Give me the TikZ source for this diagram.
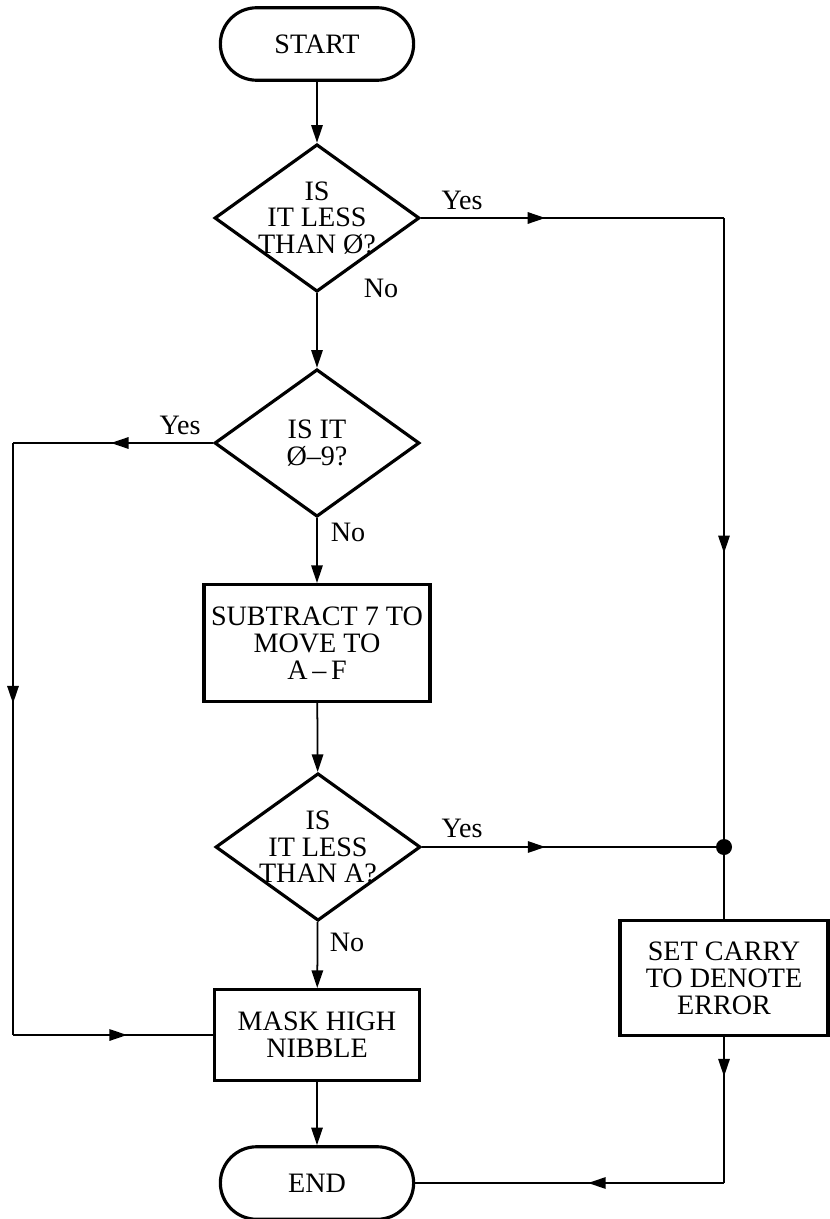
\documentclass[tikz,border=0pt]{standalone}
\usepackage{fontspec}
\setmainfont{Liberation Serif}
\usetikzlibrary{shapes.geometric,shapes.misc,arrows.meta,decorations.markings}

\begin{document}
\begin{tikzpicture}[x=0.02cm, y=-0.02cm,
        every node/.style={font=\fontsize{16}{15.3}\selectfont, align=center},
        terminal/.style={rounded rectangle, draw, line width=1.8pt, minimum width=4.1cm, minimum height=1.45cm},
        decision/.style={diamond, draw, line width=1.8pt, aspect=1.4, inner sep=-4pt, minimum width=4.1cm, minimum height=2.95cm},
        process/.style={rectangle, draw, line width=1.8pt, inner sep=0pt},
        link/.style={line width=1pt},
        arr/.style={link, -{Triangle[length=10pt, width=6.5pt]}},
        midarr/.style={link, postaction={decorate}, decoration={markings, mark=at position #1 with {\arrow{Triangle[length=10pt, width=6.5pt]}}}},
        junction/.style={circle, fill, inner sep=0pt, minimum size=0.32cm}]
        \useasboundingbox (0,0) rectangle (830,1219);

        %%%%%%%%%% Blocchi %%%%%%%%%%
        \node[terminal] (start) at (317,44) {START};
        \node[decision] (test1) at (317,218) {IS\\IT LESS\\THAN Ø?};
        \node[decision] (test2) at (317,443) {IS IT\\Ø–9?};
        \node[process, minimum width=4.52cm, minimum height=2.34cm] (sub) at (317,643) {SUBTRACT 7 TO\\MOVE TO\\A\,–\,F};
        \node[decision] (test3) at (318,847) {IS\\IT LESS\\THAN A?};
        \node[process, minimum width=4.1cm, minimum height=1.82cm] (mask) at (317,1035) {MASK HIGH\\NIBBLE};
        \node[terminal] (stop) at (317,1183) {END};
        \node[process, minimum width=4.16cm, minimum height=2.3cm] (setc) at (724,978) {SET CARRY\\TO DENOTE\\ERROR};
        \node[junction] (dot) at (724,847) {};

        \coordinate (c1) at (724,218);
        \coordinate (c2) at (724,1183);
        \coordinate (c3) at (13,443);
        \coordinate (c4) at (13,1035);

        %%%%%%%%%% Etichette %%%%%%%%%%
        \node (yes1) at (462,200) {Yes};
        \node (no1) at (381,288) {No};
        \node (yes2) at (180,425) {Yes};
        \node (no2) at (348,532) {No};
        \node (yes3) at (462,828) {Yes};
        \node (no3) at (347,942) {No};

        %%%%%%%%%% Frecce %%%%%%%%%%
        \draw[arr] (start) -- (test1);
        \draw[arr] (test1) -- (test2);
        \draw[arr] (test2) -- (sub);
        \draw[arr] (sub) -- (test3);
        \draw[arr] (test3) -- (mask);
        \draw[arr] (mask) -- (stop);

        \draw[midarr=0.41] (test1.east) -- (c1);
        \draw[midarr=0.54] (c1) -- (dot);
        \draw[midarr=0.42] (test3.east) -- (dot);
        \draw[link] (dot) -- (setc);
        \draw[midarr=0.27] (setc.south) -- (c2);
        \draw[midarr=0.44] (c2) -- (stop.east);

        \draw[midarr=0.51] (test2.west) -- (c3);
        \draw[midarr=0.44] (c3) -- (c4);
        \draw[midarr=0.57] (c4) -- (mask.west);
    \end{tikzpicture}
\end{document}
